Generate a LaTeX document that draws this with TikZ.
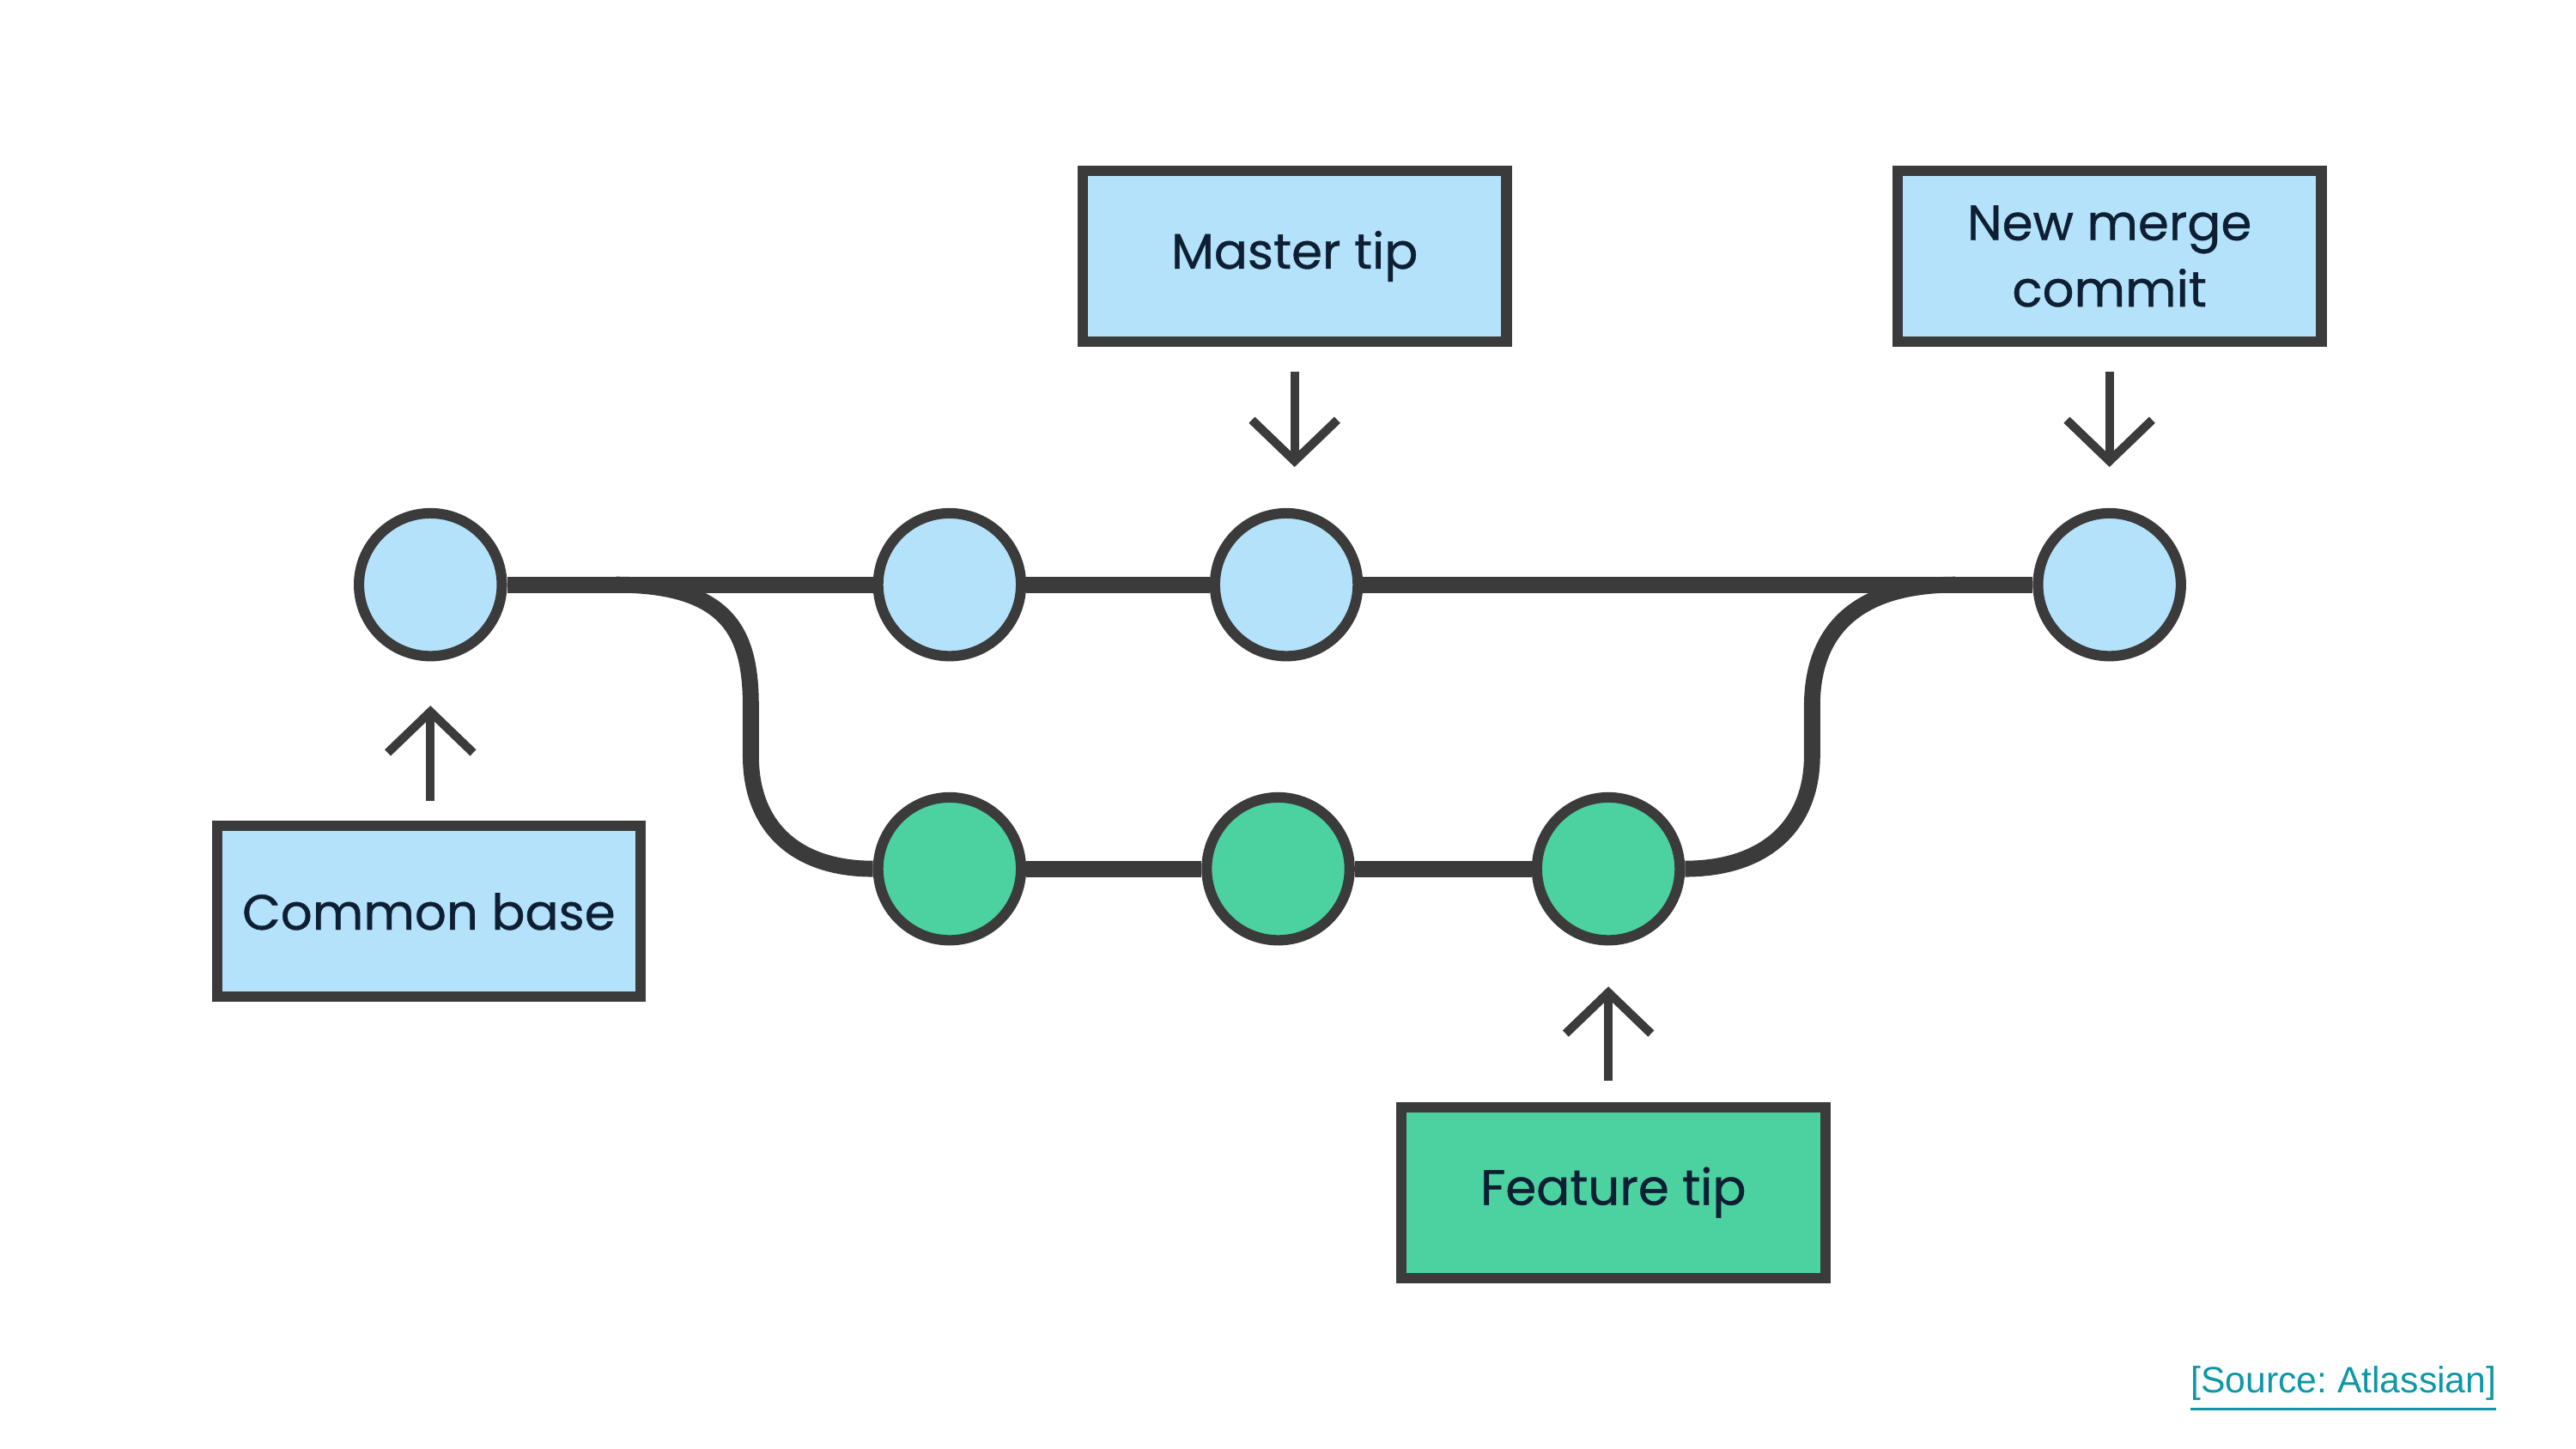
\documentclass[tikz,border=0pt]{standalone}
\usepackage{fontspec}
\setmainfont{Poppins}
\newfontfamily\tipfont{Poppins}[FakeBold=0.7]
\newfontfamily\linkfont{Liberation Sans}
\usetikzlibrary{arrows.meta,positioning,calc}
\definecolor{edge}{HTML}{3B3B3B}
\definecolor{skyfill}{HTML}{B3E2FA}
\definecolor{mintfill}{HTML}{4CD1A0}
\definecolor{inkblue}{HTML}{0F1F33}
\definecolor{linkteal}{HTML}{0E97A6}
\frenchspacing

\begin{document}
\begin{tikzpicture}[>={Straight Barb[length=2.5mm,width=5.2mm]},
    commit/.style={circle,draw=edge,line width=1.8pt,minimum size=0.87cm,inner sep=0pt},
    tipbox/.style={draw=edge,line width=1.8pt,minimum width=2.58cm,minimum height=1.04cm,align=center,text=inkblue,font=\tipfont\fontsize{8.6}{11.5}\selectfont},
    pointer/.style={->,draw=edge,line width=1.5pt},
    branch/.style={draw=edge,line width=2.8pt}]
    \useasboundingbox (0,0) rectangle (15.68,8.82);
    % commits
    \node[commit,fill=skyfill] (base) at (2.62,5.26) {};
    \node[commit,fill=skyfill] (m1) at (5.78,5.26) {};
    \node[commit,fill=skyfill] (mtip) at (7.83,5.26) {};
    \node[commit,fill=skyfill] (merge) at (12.84,5.26) {};
    \node[commit,fill=mintfill] (f1) at (5.78,3.53) {};
    \node[commit,fill=mintfill] (f2) at (7.78,3.53) {};
    \node[commit,fill=mintfill] (ftip) at (9.79,3.53) {};
    \coordinate (fork) at (3.75,5.26);
    \coordinate (join) at (11.9,5.26);
    % history lines
    \draw[branch] (base) -- (m1) -- (mtip) -- (merge);
    \draw[branch] (f1) -- (f2) -- (ftip);
    \draw[branch] (fork) .. controls (4.45,5.26) and (4.57,4.95) .. (4.57,4.52) -- (4.57,4.22) .. controls (4.57,3.78) and (4.85,3.53) .. (f1.west);
    \draw[branch] (ftip.east) .. controls (10.75,3.53) and (11.03,3.8) .. (11.03,4.22) -- (11.03,4.52) .. controls (11.03,4.98) and (11.3,5.26) .. (join);
    % labels
    \node[tipbox,fill=skyfill] (mtipbox) at (7.88,7.26) {Master tip};
    \node[tipbox,fill=skyfill] (mergebox) at (12.84,7.26) {New merge\\commit};
    \node[tipbox,fill=skyfill] (basebox) at (2.61,3.27) {Common base};
    \node[tipbox,fill=mintfill] (ftipbox) at (9.82,1.56) {Feature tip};
    \draw[pointer,shorten <=0.15cm,shorten >=0.25cm] (mtipbox.south) -- (mtipbox.south |- mtip.north);
    \draw[pointer,shorten <=0.15cm,shorten >=0.25cm] (mergebox) -- (merge);
    \draw[pointer,shorten <=0.12cm,shorten >=0.27cm] (base |- basebox.north) -- (base);
    \draw[pointer,shorten <=0.13cm,shorten >=0.25cm] (ftip |- ftipbox.north) -- (ftip);
    \node[text=linkteal,font=\linkfont\fontsize{6.35}{7.5}\selectfont,inner sep=0pt] (src) at (14.265,0.36) {\underline{[Source: Atlassian]}};
\end{tikzpicture}
\end{document}
